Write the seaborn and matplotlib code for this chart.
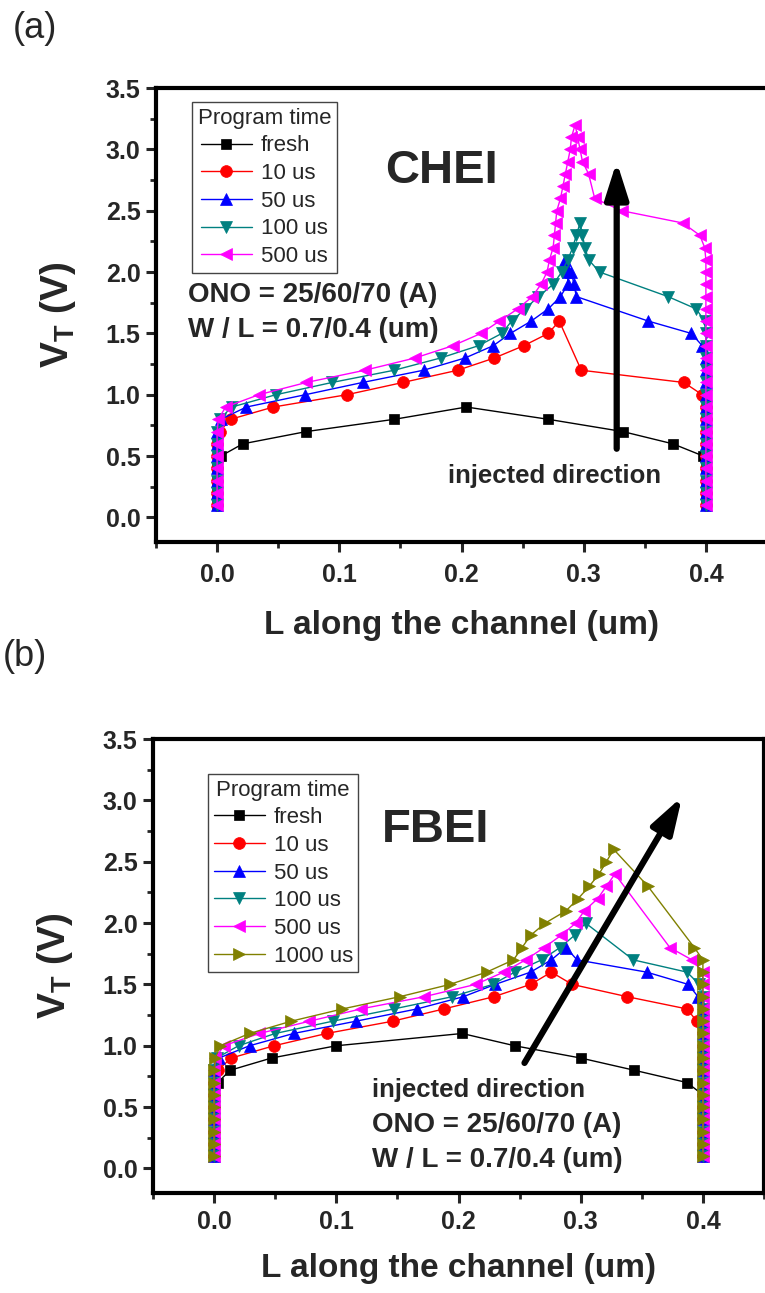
import numpy as np
import pandas as pd
import matplotlib
matplotlib.use("Agg")
import matplotlib.pyplot as plt
import seaborn as sns
from matplotlib.ticker import MultipleLocator, FormatStrFormatter

sns.set_theme(style="white")
plt.rcParams['font.family'] = ['Liberation Sans', 'DejaVu Sans']
plt.rcParams['mathtext.fontset'] = 'custom'
plt.rcParams['mathtext.rm'] = 'Liberation Sans'
plt.rcParams['mathtext.bf'] = 'Liberation Sans:bold'

# ---------------- data: panel (a) CHEI ----------------
fresh_a_x = [0, 0, 0, 0, 0.003, 0.021, 0.073, 0.145, 0.204, 0.271, 0.332, 0.373, 0.398, 0.4, 0.4, 0.4, 0.4]
fresh_a_y = [0.1, 0.2, 0.3, 0.4, 0.5, 0.6, 0.7, 0.8, 0.9, 0.8, 0.7, 0.6, 0.5, 0.4, 0.3, 0.2, 0.1]

us10_a_x = [0, 0, 0, 0, 0, 0, 0.002, 0.011, 0.046, 0.106, 0.152, 0.197, 0.227, 0.251, 0.271, 0.280,
            0.298, 0.382, 0.397, 0.4, 0.4, 0.4, 0.4, 0.4, 0.4, 0.4, 0.4, 0.4]
us10_a_y = [0.1, 0.2, 0.3, 0.4, 0.5, 0.6, 0.7, 0.8, 0.9, 1.0, 1.1, 1.2, 1.3, 1.4, 1.5, 1.6,
            1.2, 1.1, 1.0, 0.9, 0.8, 0.7, 0.6, 0.5, 0.4, 0.3, 0.2, 0.1]

us50_a_x = [0, 0, 0, 0, 0, 0, 0, 0.003, 0.024, 0.072, 0.119, 0.169, 0.203, 0.226, 0.240, 0.257, 0.271,
            0.281, 0.287, 0.287, 0.285, 0.290, 0.292, 0.294, 0.353, 0.388, 0.397,
            0.4, 0.4, 0.4, 0.4, 0.4, 0.4, 0.4, 0.4, 0.4, 0.4, 0.4, 0.4, 0.4]
us50_a_y = [0.1, 0.2, 0.3, 0.4, 0.5, 0.6, 0.7, 0.8, 0.9, 1.0, 1.1, 1.2, 1.3, 1.4, 1.5, 1.6, 1.7,
            1.8, 1.9, 2.0, 2.1, 2.0, 1.9, 1.8, 1.6, 1.5, 1.4,
            1.3, 1.2, 1.1, 1.0, 0.9, 0.8, 0.7, 0.6, 0.5, 0.4, 0.3, 0.2, 0.1]

us100_a_x = [0, 0, 0, 0, 0, 0, 0, 0.002, 0.012, 0.048, 0.094, 0.145, 0.183, 0.214, 0.233, 0.241, 0.252,
             0.263, 0.275, 0.282, 0.287, 0.291, 0.294, 0.297, 0.299, 0.301, 0.304, 0.313, 0.369, 0.392, 0.399,
             0.4, 0.4, 0.4, 0.4, 0.4, 0.4, 0.4, 0.4, 0.4, 0.4, 0.4, 0.4, 0.4, 0.4, 0.4]
us100_a_y = [0.1, 0.2, 0.3, 0.4, 0.5, 0.6, 0.7, 0.8, 0.9, 1.0, 1.1, 1.2, 1.3, 1.4, 1.5, 1.6, 1.7,
             1.8, 1.9, 2.0, 2.1, 2.2, 2.3, 2.4, 2.3, 2.2, 2.1, 2.0, 1.8, 1.7, 1.6,
             1.5, 1.4, 1.3, 1.2, 1.1, 1.0, 0.9, 0.8, 0.7, 0.6, 0.5, 0.4, 0.3, 0.2, 0.1]

us500_a_x = [0, 0, 0, 0, 0, 0, 0, 0.001, 0.007, 0.034, 0.073, 0.121, 0.162, 0.193, 0.216, 0.231, 0.246,
             0.258, 0.265, 0.270, 0.272, 0.275, 0.276, 0.277, 0.278, 0.281, 0.283, 0.285, 0.287, 0.289,
             0.290, 0.293, 0.295, 0.297, 0.299, 0.304, 0.309, 0.331, 0.381, 0.395, 0.399,
             0.4, 0.4, 0.4, 0.4, 0.4, 0.4, 0.4, 0.4, 0.4, 0.4, 0.4, 0.4, 0.4, 0.4, 0.4, 0.4, 0.4, 0.4, 0.4,
             0.4, 0.4]
us500_a_y = [0.1, 0.2, 0.3, 0.4, 0.5, 0.6, 0.7, 0.8, 0.9, 1.0, 1.1, 1.2, 1.3, 1.4, 1.5, 1.6, 1.7,
             1.8, 1.9, 2.0, 2.1, 2.2, 2.3, 2.4, 2.5, 2.6, 2.7, 2.8, 2.9, 3.0,
             3.1, 3.2, 3.1, 3.0, 2.9, 2.8, 2.6, 2.5, 2.4, 2.3, 2.2,
             2.1, 2.0, 1.9, 1.8, 1.7, 1.6, 1.5, 1.4, 1.3, 1.2, 1.1, 1.0, 0.9, 0.8, 0.7, 0.6, 0.5, 0.4, 0.3,
             0.2, 0.1]

# ---------------- data: panel (b) FBEI ----------------
fresh_b_x = [0, 0, 0, 0, 0, 0, 0.003, 0.013, 0.047, 0.100, 0.203, 0.246, 0.300, 0.344, 0.387,
             0.4, 0.4, 0.4, 0.4, 0.4, 0.4]
fresh_b_y = [0.1, 0.2, 0.3, 0.4, 0.5, 0.6, 0.7, 0.8, 0.9, 1.0, 1.1, 1.0, 0.9, 0.8, 0.7,
             0.6, 0.5, 0.4, 0.3, 0.2, 0.1]

us10_b_x = [0, 0, 0, 0, 0, 0, 0, 0.003, 0.014, 0.049, 0.092, 0.146, 0.188, 0.229, 0.259, 0.276,
            0.293, 0.338, 0.387, 0.395, 0.4, 0.4, 0.4, 0.4, 0.4, 0.4, 0.4, 0.4, 0.4, 0.4, 0.4]
us10_b_y = [0.1, 0.2, 0.3, 0.4, 0.5, 0.6, 0.7, 0.8, 0.9, 1.0, 1.1, 1.2, 1.3, 1.4, 1.5, 1.6,
            1.5, 1.4, 1.3, 1.2, 1.1, 1.0, 0.9, 0.8, 0.7, 0.6, 0.5, 0.4, 0.3, 0.2, 0.1]

us50_b_x = [0, 0, 0, 0, 0, 0, 0, 0, 0.004, 0.029, 0.065, 0.116, 0.166, 0.204, 0.230, 0.259, 0.276,
            0.288, 0.297, 0.354, 0.388, 0.396,
            0.4, 0.4, 0.4, 0.4, 0.4, 0.4, 0.4, 0.4, 0.4, 0.4, 0.4, 0.4, 0.4]
us50_b_y = [0.1, 0.2, 0.3, 0.4, 0.5, 0.6, 0.7, 0.8, 0.9, 1.0, 1.1, 1.2, 1.3, 1.4, 1.5, 1.6, 1.7,
            1.8, 1.7, 1.6, 1.5, 1.4,
            1.3, 1.2, 1.1, 1.0, 0.9, 0.8, 0.7, 0.6, 0.5, 0.4, 0.3, 0.2, 0.1]

us100_b_x = [0, 0, 0, 0, 0, 0, 0, 0, 0.002, 0.020, 0.050, 0.097, 0.147, 0.195, 0.228, 0.246, 0.268,
             0.283, 0.295, 0.304, 0.343, 0.387, 0.397,
             0.4, 0.4, 0.4, 0.4, 0.4, 0.4, 0.4, 0.4, 0.4, 0.4, 0.4, 0.4, 0.4, 0.4]
us100_b_y = [0.1, 0.2, 0.3, 0.4, 0.5, 0.6, 0.7, 0.8, 0.9, 1.0, 1.1, 1.2, 1.3, 1.4, 1.5, 1.6, 1.7,
             1.8, 1.9, 2.0, 1.7, 1.6, 1.5,
             1.4, 1.3, 1.2, 1.1, 1.0, 0.9, 0.8, 0.7, 0.6, 0.5, 0.4, 0.3, 0.2, 0.1]

us500_b_x = [0, 0, 0, 0, 0, 0, 0, 0, 0.001, 0.008, 0.037, 0.078, 0.120, 0.172, 0.214, 0.237, 0.255,
             0.270, 0.284, 0.296, 0.303, 0.314, 0.321, 0.328, 0.373, 0.391,
             0.4, 0.4, 0.4, 0.4, 0.4, 0.4, 0.4, 0.4, 0.4, 0.4, 0.4, 0.4, 0.4, 0.4, 0.4, 0.4]
us500_b_y = [0.1, 0.2, 0.3, 0.4, 0.5, 0.6, 0.7, 0.8, 0.9, 1.0, 1.1, 1.2, 1.3, 1.4, 1.5, 1.6, 1.7,
             1.8, 1.9, 2.0, 2.1, 2.2, 2.3, 2.4, 1.8, 1.7,
             1.6, 1.5, 1.4, 1.3, 1.2, 1.1, 1.0, 0.9, 0.8, 0.7, 0.6, 0.5, 0.4, 0.3, 0.2, 0.1]

us1000_b_x = [0, 0, 0, 0, 0, 0, 0, 0, 0.001, 0.005, 0.029, 0.063, 0.105, 0.152, 0.193, 0.223, 0.245,
              0.252, 0.259, 0.271, 0.288, 0.298, 0.307, 0.315, 0.321, 0.327, 0.355, 0.393,
              0.4, 0.4, 0.4, 0.4, 0.4, 0.4, 0.4, 0.4, 0.4, 0.4, 0.4, 0.4, 0.4, 0.4, 0.4, 0.4, 0.4]
us1000_b_y = [0.1, 0.2, 0.3, 0.4, 0.5, 0.6, 0.7, 0.8, 0.9, 1.0, 1.1, 1.2, 1.3, 1.4, 1.5, 1.6, 1.7,
              1.8, 1.9, 2.0, 2.1, 2.2, 2.3, 2.4, 2.5, 2.6, 2.3, 1.8,
              1.7, 1.6, 1.5, 1.4, 1.3, 1.2, 1.1, 1.0, 0.9, 0.8, 0.7, 0.6, 0.5, 0.4, 0.3, 0.2, 0.1]

labels_a = ["fresh", "10 us", "50 us", "100 us", "500 us"]
labels_b = ["fresh", "10 us", "50 us", "100 us", "500 us", "1000 us"]

series_a = [(fresh_a_x, fresh_a_y), (us10_a_x, us10_a_y), (us50_a_x, us50_a_y),
            (us100_a_x, us100_a_y), (us500_a_x, us500_a_y)]
series_b = [(fresh_b_x, fresh_b_y), (us10_b_x, us10_b_y), (us50_b_x, us50_b_y),
            (us100_b_x, us100_b_y), (us500_b_x, us500_b_y), (us1000_b_x, us1000_b_y)]

colors = ["#000000", "#FF0000", "#0000FF", "#008080", "#FF00FF", "#808000"]
markers = ["s", "o", "^", "v", "<", ">"]
msizes = [6.5, 8.5, 8.5, 8.5, 8.5, 8.5]

W, H = 765, 1293
fig = plt.figure(figsize=(W / 100, H / 100), dpi=100)
ax_a = fig.add_axes([156 / W, 1 - 542 / H, 611 / W, 454 / H])
ax_b = fig.add_axes([153 / W, 1 - 1193 / H, 611 / W, 454 / H])


def draw(ax, series, labels, legend_anchor, tpad, lpad):
    for i, ((xs, ys), lab) in enumerate(zip(series, labels)):
        df = pd.DataFrame({"L": xs, "VT": ys})
        sns.lineplot(data=df, x="L", y="VT", ax=ax, sort=False, estimator=None,
                     color=colors[i], marker=markers[i], markersize=msizes[i],
                     markeredgecolor=colors[i], markeredgewidth=0.5,
                     linewidth=1.0, label=lab)
    ax.set_xlim(-0.05, 0.45)
    ax.set_ylim(-0.2, 3.5)
    ax.xaxis.set_major_locator(MultipleLocator(0.1))
    ax.xaxis.set_minor_locator(MultipleLocator(0.05))
    ax.yaxis.set_major_locator(MultipleLocator(0.5))
    ax.yaxis.set_minor_locator(MultipleLocator(0.25))
    ax.xaxis.set_major_formatter(FormatStrFormatter('%.1f'))
    ax.yaxis.set_major_formatter(FormatStrFormatter('%.1f'))
    ax.tick_params(which='major', direction='out', length=7, width=2.2,
                   labelsize=18, pad=4, bottom=True, left=True, top=False, right=False)
    ax.tick_params(axis='x', which='major', pad=tpad)
    ax.tick_params(which='minor', direction='out', length=4, width=2.0,
                   bottom=True, left=True, top=False, right=False)
    for lab in ax.get_xticklabels() + ax.get_yticklabels():
        lab.set_fontweight('bold')
    for sp in ax.spines.values():
        sp.set_linewidth(3.0)
        sp.set_color('black')
    ax.set_xlabel("L along the channel (um)", fontsize=24, fontweight='bold', labelpad=lpad)
    ax.set_ylabel(r"V$_\mathbf{T}$ (V)", fontsize=28, fontweight='bold', labelpad=20)
    leg = ax.legend(title="Program time", loc='upper left', bbox_to_anchor=legend_anchor,
                    fontsize=16, title_fontsize=16, frameon=True, fancybox=False,
                    edgecolor='#444444', framealpha=1, borderpad=0.25, labelspacing=0.3,
                    handlelength=2.3, handletextpad=0.4, borderaxespad=0)
    leg.get_frame().set_linewidth(1.0)


draw(ax_a, series_a, labels_a, (0.059, 0.969), 8, 17)
draw(ax_b, series_b, labels_b, (0.09, 0.923), 5, 14)

# panel (a) annotations
ax_a.text(0.184, 2.82, "CHEI", fontsize=34, fontweight='bold', ha='center', va='center')
ax_a.text(-0.024, 1.81, "ONO = 25/60/70 (A)", fontsize=20, fontweight='bold', ha='left', va='center')
ax_a.text(-0.024, 1.525, "W / L = 0.7/0.4 (um)", fontsize=20, fontweight='bold', ha='left', va='center')
ax_a.text(0.2765, 0.335, "injected direction", fontsize=18.5, fontweight='bold', ha='center', va='center')
ax_a.annotate("", xy=(0.327, 2.9), xytext=(0.327, 0.56),
              arrowprops=dict(arrowstyle='-|>,head_length=1.1,head_width=0.35',
                              lw=4.5, color='black', mutation_scale=20, capstyle='round',
                              shrinkA=0, shrinkB=0))

# panel (b) annotations
ax_b.text(0.181, 2.76, "FBEI", fontsize=34, fontweight='bold', ha='center', va='center')
ax_b.text(0.129, 0.64, "injected direction", fontsize=18.5, fontweight='bold', ha='left', va='center')
ax_b.text(0.129, 0.355, "ONO = 25/60/70 (A)", fontsize=20, fontweight='bold', ha='left', va='center')
ax_b.text(0.129, 0.07, "W / L = 0.7/0.4 (um)", fontsize=20, fontweight='bold', ha='left', va='center')
ax_b.annotate("", xy=(0.383, 3.03), xytext=(0.254, 0.86),
              arrowprops=dict(arrowstyle='-|>,head_length=1.1,head_width=0.35',
                              lw=4.5, color='black', mutation_scale=20, capstyle='round',
                              shrinkA=0, shrinkB=0))

fig.text(35 / W, 1 - 29 / H, "(a)", fontsize=26, ha='center', va='center')
fig.text(25 / W, 1 - 657 / H, "(b)", fontsize=26, ha='center', va='center')

fig.savefig("out.png", dpi=100, facecolor='white')
